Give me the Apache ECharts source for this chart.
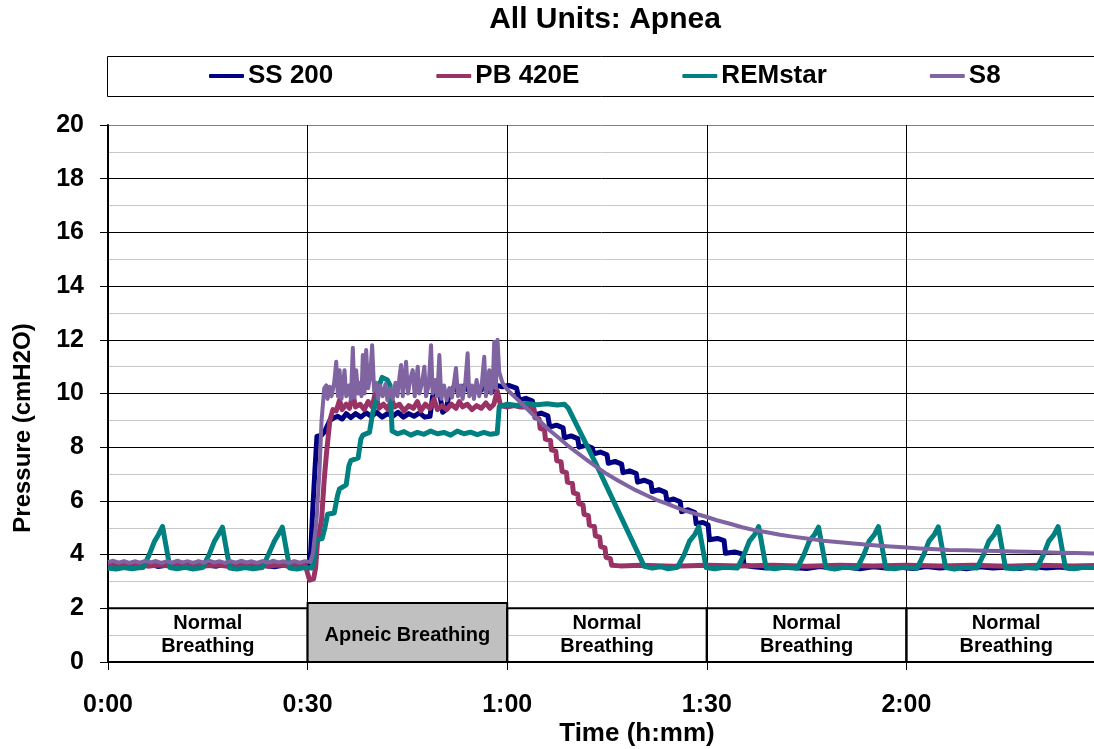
<!DOCTYPE html>
<html>
<head>
<meta charset="utf-8">
<script src="https://cdn.jsdelivr.net/npm/echarts@6/dist/echarts.min.js"></script>
<style>html,body{margin:0;padding:0;background:#fff;}#c{width:1094px;height:749px;}</style>
</head>
<body>
<div id="c"></div>
<script>
// ---- data (time in minutes, pressure in cmH2O) ----
const seriesNames = ['SS 200', 'PB 420E', 'REMstar', 'S8'];
const seriesColors = ['#000080', '#993366', '#008080', '#8064A2'];
const yTicks = [0, 2, 4, 6, 8, 10, 12, 14, 16, 18, 20];
const xTickMinutes = [0, 30, 60, 90, 120];

const ss200 = [
[0,3.58],[1.2,3.62],[2.5,3.55],[3.8,3.6],[5,3.57],[6.3,3.63],[7.5,3.56],[8.8,3.6],[10,3.55],[11.3,3.62],[12.5,3.58],[13.8,3.54],[15,3.6],[16.3,3.57],[17.5,3.63],[18.8,3.55],[20,3.6],[21.3,3.56],[22.5,3.62],[23.8,3.58],[25,3.55],[26.3,3.6],[27.5,3.57],[28.8,3.62],[30,3.58],
[30.2,3.7],[30.45,4.05],[30.8,5.8],[31.1,7.15],[31.4,8.4],[32.1,8.45],[32.6,8.6],[33.35,9.0],[34.0,9.1],[34.55,9.15],[35.2,9.05],[35.8,9.25],[36.5,9.1],[37.2,9.25],[38,9.12],[38.8,9.28],[39.6,9.15],[40.4,9.3],[41.2,9.12],[42,9.25],[42.8,9.15],[43.6,9.3],[44.4,9.12],[45.2,9.25],[46,9.15],[46.8,9.28],[47.6,9.12],[48.4,9.15],[48.8,9.9],[49.3,10.3],[49.8,10.1],[50.3,9.3],[50.8,9.4],[51.3,10.0],[52,10.25],[52.8,10.0],[53.6,10.3],[54.4,10.05],[55.2,10.25],[56,10.1],[56.8,10.3],[57.6,10.05],[58.4,10.3],[59.3,10.25],[60.2,10.3],[61.4,10.2],
[61.8,9.75],[62.8,9.82],[63.8,9.72],[64.1,9.2],[65.1,9.27],[66.1,9.17],[66.4,8.75],[67.4,8.82],[68.4,8.72],[68.6,8.35],[69.6,8.42],[70.6,8.32],[70.8,8.0],[71.8,8.07],[72.8,7.97],[73.0,7.75],[74.0,7.82],[75.0,7.72],[75.2,7.4],[76.2,7.47],[77.2,7.37],[77.4,7.05],[78.4,7.12],[79.4,7.02],[79.6,6.7],[80.6,6.77],[81.6,6.67],[81.8,6.35],[82.8,6.42],[83.8,6.32],[84.0,6.0],[85.0,6.07],[86.0,5.97],[86.2,5.6],[87.2,5.67],[88.2,5.57],[88.4,5.15],[89.4,5.2],[90.2,5.1],[90.4,4.55],[91.6,4.6],[92.6,4.52],[92.8,4.05],[94.2,4.1],[95.4,4.02],[95.6,3.6],
[97,3.55],[99,3.5],[101,3.57],[103,3.52],[105,3.48],[107,3.56],[109,3.5],[111,3.54],[113,3.47],[115,3.55],[117,3.5],[119,3.53],[121,3.48],[123,3.56],[125,3.5],[127,3.54],[129,3.47],[131,3.55],[133,3.5],[135,3.53],[137,3.48],[139,3.56],[141,3.5],[143,3.54],[145,3.48],[147,3.55],[150,3.52]
];

const pb420e = [
[0,3.6],[1.5,3.63],[3,3.58],[4.5,3.62],[6,3.57],[7.5,3.61],[9,3.58],[10.5,3.63],[12,3.57],[13.5,3.62],[15,3.58],[16.5,3.61],[18,3.57],[19.5,3.63],[21,3.58],[22.5,3.62],[24,3.57],[25.5,3.61],[27,3.58],[28.5,3.62],[29.7,3.58],
[30.0,3.3],[30.3,3.05],[30.9,3.1],[31.2,3.5],[31.5,4.5],[32.1,5.3],[32.5,6.8],[32.85,7.8],[33.35,9.0],[33.8,9.4],[34.3,9.35],[34.8,9.75],[35.2,9.4],[35.8,9.6],[36.3,9.45],[36.8,10.0],[37.2,9.5],[37.9,9.6],[38.5,9.4],[39.1,9.7],[39.7,9.5],[40.2,10.05],[40.7,9.45],[41.4,9.6],[42.1,9.4],[42.6,9.8],[43.1,9.5],[43.8,9.6],[44.5,9.35],[45.2,9.55],[45.9,9.45],[46.5,9.7],[47.0,9.35],[47.7,9.6],[48.4,9.45],[49.0,9.8],[49.5,9.4],[50.2,9.55],[50.9,9.4],[51.6,9.6],[52.3,9.45],[52.8,9.7],[53.3,9.5],[54.0,9.6],[54.7,9.4],[55.4,9.55],[56.1,9.45],[56.8,9.65],[57.4,9.45],[58.0,9.6],[58.5,10.1],[59.0,9.55],[60,9.5],[61,9.55],[62,9.5],[63.5,9.5],
[64.0,9.45],[64.15,9.1],[64.8,9.05],[64.95,8.7],[65.6,8.65],[65.75,8.3],[66.5,8.25],[66.65,7.9],[67.3,7.85],[67.45,7.5],[68.1,7.45],[68.25,7.1],[68.9,7.05],[69.05,6.7],[69.8,6.65],[69.95,6.3],[70.6,6.25],[70.75,5.9],[71.4,5.85],[71.55,5.5],[72.2,5.45],[72.35,5.1],[73.1,5.05],[73.25,4.7],[73.9,4.65],[74.05,4.3],[74.7,4.25],[74.85,3.9],[75.5,3.85],[75.7,3.6],
[77,3.58],[80,3.6],[85,3.57],[90,3.6],[95,3.58],[100,3.6],[105,3.57],[110,3.6],[115,3.58],[120,3.6],[125,3.58],[130,3.6],[135,3.57],[140,3.6],[145,3.58],[150,3.6]
];

const remstar = [
[0,3.5],[1.2,3.46],[2.4,3.52],[3.6,3.47],[4.6,3.51],[5.3,3.52],[6.2,4.0],[7.0,4.5],[7.6,4.75],[8.2,5.05],[9.3,3.52],[10.4,3.47],[11.6,3.53],[12.8,3.46],[14.2,3.52],[15.2,4.0],[16.0,4.5],[16.6,4.75],[17.2,5.02],[18.3,3.5],[19.4,3.46],[20.6,3.52],[21.8,3.47],[23.2,3.52],[24.2,4.05],[25.0,4.5],[25.6,4.75],[26.2,5.02],[27.3,3.5],[28.4,3.46],[29.5,3.52],[30.6,3.5],
[30.9,3.7],[31.3,4.55],[32.2,4.6],[32.6,5.0],[33.0,5.5],[34.0,5.55],[34.5,6.2],[34.8,6.45],[35.8,6.6],[36.2,7.3],[36.5,7.5],[37.6,7.6],[38.0,8.3],[38.3,8.45],[39.3,8.55],[39.8,9.3],[40.3,9.7],[40.9,10.4],[41.2,10.6],[42.0,10.5],[42.4,10.3],[42.7,8.6],[43.5,8.5],[44.5,8.58],[45.5,8.45],[46.5,8.55],[47.5,8.48],[48.5,8.6],[49.5,8.5],[50.5,8.55],[51.5,8.45],[52.5,8.6],[53.5,8.5],[54.5,8.56],[55.5,8.47],[56.5,8.55],[57.5,8.48],[58.5,8.52],
[58.8,9.5],[60,9.6],[61.5,9.55],[63,9.63],[64.5,9.58],[66,9.62],[67.5,9.57],[68.6,9.6],[69.2,9.45],[73.4,7.35],[80.6,3.56],[81.8,3.5],[83.0,3.55],[84.2,3.47],[85.6,3.53],
[86.6,4.0],[87.4,4.5],[88.2,4.75],[88.8,5.04],[89.9,3.52],[91.2,3.47],[92.6,3.53],[94.6,3.5],
[95.6,4.0],[96.4,4.5],[97.2,4.75],[97.8,5.04],[98.9,3.52],[100.2,3.47],[101.6,3.53],[103.6,3.49],
[104.6,4.0],[105.4,4.5],[106.2,4.75],[106.8,5.02],[107.9,3.52],[109.2,3.46],[110.6,3.53],[112.6,3.5],
[113.6,4.0],[114.4,4.5],[115.2,4.75],[115.8,5.04],[116.9,3.5],[118.2,3.47],[119.6,3.53],[121.6,3.49],
[122.6,4.0],[123.4,4.5],[124.2,4.75],[124.8,5.03],[125.9,3.52],[127.2,3.46],[128.6,3.53],[130.6,3.5],
[131.6,4.0],[132.4,4.5],[133.2,4.75],[133.8,5.04],[134.9,3.5],[136.2,3.47],[137.6,3.53],[139.6,3.49],
[140.6,4.0],[141.4,4.5],[142.2,4.75],[142.8,5.04],[143.9,3.52],[145.2,3.47],[146.6,3.53],[150,3.5]
];

const s8 = [
[0,3.72],[0.8,3.77],[1.6,3.7],[2.4,3.76],[3.2,3.69],[4,3.75],[4.8,3.7],[5.6,3.77],[6.4,3.71],[7.2,3.76],[8,3.69],[8.8,3.75],[9.6,3.7],[10.4,3.77],[11.2,3.71],[12,3.75],[12.8,3.69],[13.6,3.76],[14.4,3.7],[15.2,3.77],[16,3.71],[16.8,3.75],[17.6,3.69],[18.4,3.76],[19.2,3.7],[20,3.77],[20.8,3.71],[21.6,3.75],[22.4,3.69],[23.2,3.76],[24,3.7],[24.8,3.77],[25.6,3.71],[26.4,3.75],[27.2,3.69],[28,3.76],[28.8,3.7],[29.6,3.75],[30.4,3.72],
[30.8,4.05],[31.35,5.3],[31.8,7.2],[32.1,9.0],[32.5,10.2],[32.8,10.3],[33.0,9.8],[33.3,10.25],[33.6,9.9],[34.0,10.4],[34.3,11.18],[34.55,9.9],[34.8,10.87],[35.1,9.8],[35.55,10.87],[35.8,9.9],[36.2,10.3],[36.5,9.8],[36.8,11.7],[37.05,9.85],[37.3,10.87],[37.6,10.0],[37.9,10.4],[38.1,9.9],[38.3,11.43],[38.55,10.0],[38.8,11.62],[39.1,10.2],[39.4,10.6],[39.7,11.8],[40.0,10.1],[40.3,10.4],[40.6,9.8],[40.9,10.3],[41.3,9.9],[41.7,10.35],[42.0,9.75],[42.4,10.2],[42.8,9.8],[43.2,10.4],[43.5,9.9],[43.8,10.6],[44.05,11.06],[44.3,9.9],[44.8,11.18],[45.1,10.0],[45.4,10.5],[45.8,10.87],[46.1,9.9],[46.55,11.0],[46.8,10.0],[47.2,10.4],[47.55,11.0],[47.8,9.9],[48.2,10.3],[48.55,11.8],[48.8,10.0],[49.2,10.5],[49.5,9.9],[49.8,11.43],[50.1,9.8],[50.5,10.3],[50.9,9.75],[51.3,10.2],[51.7,9.85],[52.0,10.4],[52.3,10.95],[52.6,9.9],[53.0,10.3],[53.3,9.8],[53.7,10.4],[54.05,11.5],[54.3,9.9],[54.7,10.3],[55.0,9.8],[55.4,10.5],[55.8,9.9],[56.2,10.4],[56.55,11.37],[56.8,9.9],[57.05,10.3],[57.3,10.87],[57.6,10.0],[57.85,10.5],[58.05,11.93],[58.3,10.2],[58.55,12.0],[58.8,10.8],[59.3,10.39],
[60.0,10.15],[60.8,9.95],[61.8,9.72],[62.9,9.45],[64.0,9.18],[65.2,8.9],[66.4,8.62],[67.6,8.38],[69.0,8.08],[70.5,7.8],[72.0,7.52],[73.4,7.27],[75.0,7.0],[76.5,6.78],[78.0,6.57],[79.3,6.4],[81.0,6.2],[82.5,6.03],[84.0,5.9],[85.2,5.78],[86.8,5.63],[88.3,5.52],[89.9,5.41],[91.5,5.28],[93.5,5.15],[95.3,5.02],[97.0,4.92],[99.0,4.83],[101.0,4.74],[102.9,4.67],[105,4.6],[107.5,4.52],[110,4.46],[112.5,4.4],[114.6,4.36],[117,4.31],[119.5,4.27],[122,4.23],[124.5,4.2],[126.4,4.17],[129,4.16],[131.5,4.14],[134,4.13],[136,4.12],[138.2,4.11],[140.5,4.09],[143,4.07],[145.5,4.06],[150,4.03]
];

// breathing-phase annotation boxes
const phaseStart = [0, 30, 60, 90, 120];
const phaseEnd = [30, 60, 90, 120, 150];
const phaseTop = [2, 2.2, 2, 2, 2];
const phaseLabel = ['Normal\nBreathing', 'Apneic Breathing', 'Normal\nBreathing', 'Normal\nBreathing', 'Normal\nBreathing'];
const phaseFill = ['rgba(0,0,0,0)', '#c0c0c0', 'rgba(0,0,0,0)', 'rgba(0,0,0,0)', 'rgba(0,0,0,0)'];

// ---- chart ----
const FONT = '"Liberation Sans", Arial, Helvetica, sans-serif';
const chart = echarts.init(document.getElementById('c'), null, {renderer: 'canvas'});
const fmtTime = v => Math.floor(v / 60) + ':' + String(v % 60).padStart(2, '0');
const allData = [ss200, pb420e, remstar, s8];

const markAreaData = phaseStart.map((s, i) => [
  {xAxis: s, yAxis: 0, itemStyle: {color: phaseFill[i], borderColor: '#000', borderWidth: 2},
   label: {show: true, position: 'inside', formatter: phaseLabel[i], offset: [0, i === 1 ? 3 : 0]}},
  {xAxis: phaseEnd[i], yAxis: phaseTop[i]}
]);

const series = seriesNames.map((n, i) => ({
  name: n,
  type: 'line',
  data: allData[i],
  showSymbol: false,
  symbol: 'none',
  clip: true,
  z: 3 + i,
  lineStyle: {color: seriesColors[i], width: i === 3 ? 4 : 5, join: 'round'},
  itemStyle: {color: seriesColors[i]},
  emphasis: {disabled: true}
}));
series[0].markArea = {
  silent: true,
  z: 1,
  label: {color: '#000', fontFamily: FONT, fontWeight: 'bold', fontSize: 20, lineHeight: 23, align: 'center'},
  data: markAreaData
};

const ySplitColors = yTicks.map((t, i) => i === yTicks.length - 1 ? '#808080' : '#000');

chart.setOption({
  animation: false,
  backgroundColor: '#fff',
  textStyle: {fontFamily: FONT},
  grid: {left: 108, right: -12, top: 125, bottom: 87, containLabel: false, outerBoundsMode: 'none'},
  legend: {
    data: seriesNames,
    left: 209, top: 63, padding: 0,
    itemGap: 103, itemWidth: 35, itemHeight: 4,
    icon: 'roundRect',
    textStyle: {fontFamily: FONT, fontSize: 26, fontWeight: 'bold', color: '#000', lineHeight: 26, padding: [0, 0, 0, -1]},
    selectedMode: false
  },
  xAxis: {
    type: 'value', min: 0, max: 150, interval: 30,
    axisLine: {show: true, lineStyle: {color: '#000', width: 2}},
    axisTick: {show: true, length: 8, lineStyle: {color: '#000', width: 1}},
    axisLabel: {
      fontFamily: FONT, fontSize: 25, fontWeight: 'bold', color: '#000', margin: 31,
      formatter: v => xTickMinutes.indexOf(v) >= 0 ? fmtTime(v) : ''
    },
    splitLine: {show: true, lineStyle: {color: '#000', width: 1}}
  },
  yAxis: {
    type: 'value', min: 0, max: 20, interval: 2,
    axisLine: {show: true, lineStyle: {color: '#000', width: 2}},
    axisTick: {show: true, length: 8, lineStyle: {color: '#000', width: 1}},
    axisLabel: {fontFamily: FONT, fontSize: 25, fontWeight: 'bold', color: '#000', margin: 24,
      formatter: v => yTicks.indexOf(v) >= 0 ? String(v) : ''},
    splitLine: {show: true, lineStyle: {color: ySplitColors, width: 1}},
    minorTick: {show: false, splitNumber: 2},
    minorSplitLine: {show: true, lineStyle: {color: '#c8c8c8', width: 1}}
  },
  graphic: [
    {type: 'rect', z: 0, silent: true, shape: {x: 107.5, y: 56.5, width: 1000, height: 40},
     style: {fill: 'none', stroke: '#000', lineWidth: 1}},
    {type: 'text', silent: true, x: 605, y: 20,
     style: {text: 'All Units: Apnea', fill: '#000', font: 'bold 30px ' + FONT, align: 'center', verticalAlign: 'middle'}},
    {type: 'text', silent: true, x: 23, y: 428, rotation: Math.PI / 2,
     style: {text: 'Pressure (cmH2O)', fill: '#000', font: 'bold 24px ' + FONT, align: 'center', verticalAlign: 'middle'}},
    {type: 'text', silent: true, x: 637, y: 734,
     style: {text: 'Time (h:mm)', fill: '#000', font: 'bold 26px ' + FONT, align: 'center', verticalAlign: 'middle'}}
  ],
  series: series
});
</script>
</body>
</html>
